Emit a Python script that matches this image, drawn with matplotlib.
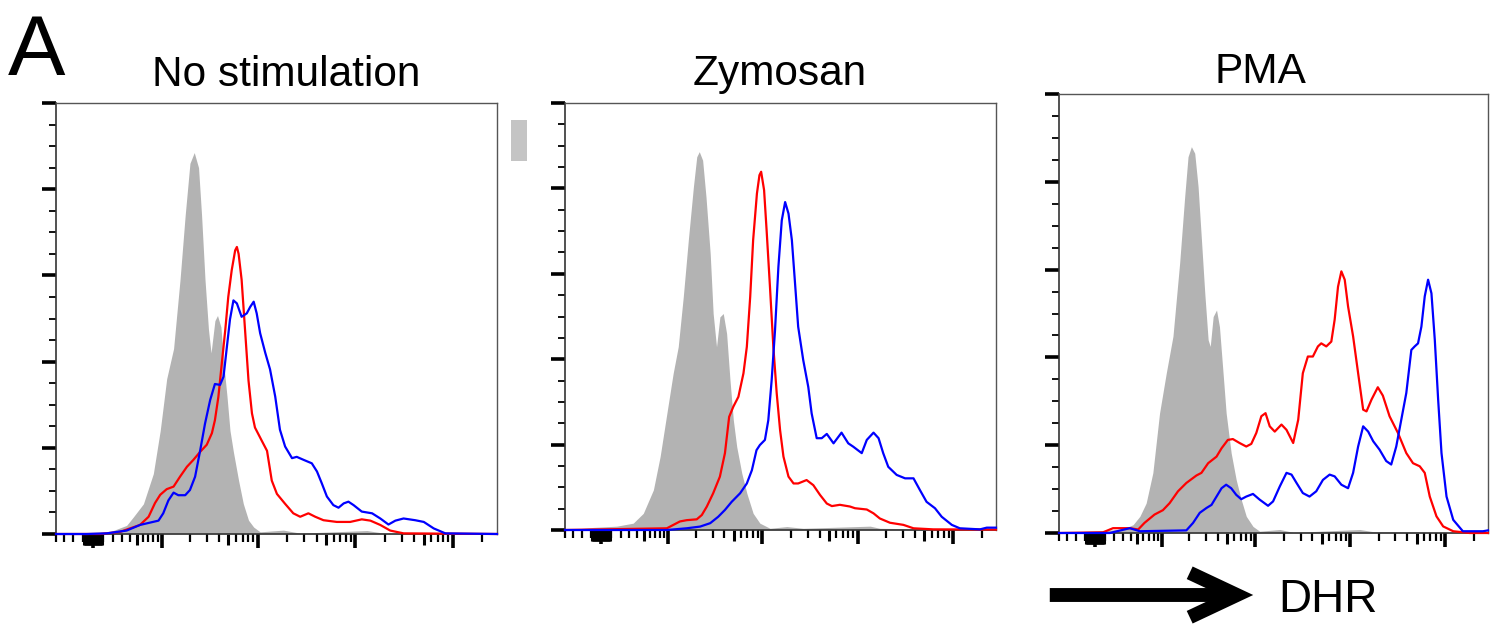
"""
Histogramas de DHR (citometría de flujo) para tres condiciones de estimulación.
"""

import numpy as np
import matplotlib.pyplot as plt
from matplotlib.patches import FancyArrowPatch, Rectangle

plt.rcParams['font.family'] = ['Liberation Sans', 'DejaVu Sans']

W_PX, H_PX = 1502, 627

# Canal (0-1024) y % del máximo
TITLES = ['No stimulation', 'Zymosan', 'PMA']

nostim_gray_x = [0, 63, 125, 164, 180, 203, 226, 242, 257, 273, 288, 300, 311, 321, 331, 338,
                 346, 354, 360, 369, 375, 383, 389, 397, 404, 412, 424, 435, 447, 459, 474,
                 528, 567, 722, 761, 1024]
nostim_gray_y = [0, 0.3, 0.5, 2, 4, 7, 14, 24, 36, 43, 59, 74, 86, 88.5, 85, 74,
                 59, 47.5, 42, 49.5, 50.7, 48, 40, 32, 24, 19, 12.4, 7, 3.2, 1.6, 0.5,
                 0.9, 0.2, 0.8, 0.2, 0]
nostim_red_x = [0, 102, 149, 195, 215, 230, 242, 257, 273, 288, 304, 319, 335, 350, 362, 369,
                377, 385, 393, 400, 408, 416, 420, 424, 431, 439, 447, 455, 462, 478, 490,
                501, 513, 532, 551, 567, 586, 602, 621, 652, 683, 710, 730, 753, 776, 807, 1024]
nostim_red_y = [0, 0, 0.5, 2.1, 4.0, 7.2, 9.1, 10.4, 11.0, 13.3, 15.6, 17.2, 19.1, 20.7, 23.4, 26.4,
                31.8, 39.6, 47.3, 55, 61.2, 65.8, 66.6, 65, 59, 47.3, 35.6, 28, 24.7, 21.6, 19.3,
                12.4, 9.3, 7.0, 4.8, 4.0, 4.8, 4.0, 3.2, 2.8, 2.8, 3.4, 3.1, 2.1, 0.8, 0.15, 0]
nostim_blue_x = [0, 71, 118, 164, 195, 238, 249, 261, 273, 284, 300, 311, 323, 335, 346, 358,
                 369, 381, 389, 397, 404, 412, 420, 431, 443, 451, 459, 466, 474, 486, 497,
                 509, 520, 532, 548, 559, 575, 594, 606, 617, 629, 644, 656, 668, 679, 691,
                 710, 734, 753, 772, 788, 807, 834, 854, 877, 904, 1024]
nostim_blue_y = [0, 0, 0.15, 0.8, 2.1, 3.1, 4.8, 7.8, 9.6, 9.0, 9.0, 10.2, 13.3, 19.5, 25.6, 31.1,
                 34.8, 34.6, 36.5, 43.6, 49.8, 54.2, 53.5, 50.4, 51.2, 52.7, 53.9, 51.2, 46.6, 42, 38.2,
                 31.9, 24.2, 20.3, 17.6, 17.9, 17.2, 16.4, 14.5, 11.8, 8.7, 6.7, 6.1, 7.1, 7.5, 6.7,
                 5.2, 4.8, 3.6, 2.2, 3.1, 3.6, 3.2, 2.8, 1.3, 0.15, 0]

zym_gray_x = [0, 67, 123, 162, 186, 210, 226, 242, 257, 269, 281, 293, 305, 313, 319, 327,
              335, 345, 352, 360, 368, 376, 384, 392, 400, 408, 420, 432, 447, 463, 487,
              527, 566, 725, 748, 1024]
zym_gray_y = [0, 0.6, 0.9, 1.6, 3.9, 9.4, 17.2, 27.3, 36.7, 42.9, 54.6, 67.9, 80.3, 87.4, 88.6, 86.6,
              78, 64.7, 50.7, 42.9, 49.9, 50.7, 46, 35.1, 25.7, 19.5, 13.3, 8.6, 3.9, 1.6, 0.4,
              0.8, 0.4, 0.9, 0.4, 0]
zym_red_x = [0, 242, 273, 289, 313, 325, 337, 352, 368, 380, 390, 400, 412, 424, 432, 440,
             447, 456, 462, 466, 473, 479, 487, 495, 503, 511, 519, 531, 543, 554, 574,
             590, 606, 622, 634, 653, 677, 689, 717, 733, 748, 772, 804, 828, 875, 1024]
zym_red_y = [0, 0.4, 2.0, 2.3, 2.5, 3.5, 5.5, 8.6, 12.5, 18, 26.5, 28.9, 31.2, 36.7, 42.9, 54.6,
             67.9, 78.8, 83.1, 83.9, 79.6, 70.2, 56.9, 42.9, 32, 23.4, 17.2, 12.5, 10.9, 10.9, 11.7,
             10.5, 8.2, 6.2, 5.6, 5.9, 5.5, 5.1, 4.8, 3.9, 2.7, 1.7, 1.2, 0.4, 0.15, 0.1]
zym_blue_x = [0, 242, 289, 321, 345, 364, 380, 396, 416, 432, 444, 455, 463, 475, 483, 491,
              499, 507, 515, 523, 531, 539, 546, 554, 566, 578, 586, 598, 610, 622, 638,
              657, 673, 685, 705, 717, 733, 745, 756, 768, 788, 808, 828, 843, 859, 879,
              895, 919, 938, 986, 1002, 1024]
zym_blue_y = [0, 0, 0.4, 0.8, 1.6, 3.1, 4.7, 6.6, 8.6, 10.9, 14, 18.7, 19.9, 21.1, 25.7, 35.1,
              46.8, 61.6, 72.5, 76.8, 74.1, 67.9, 58.5, 47.6, 39.8, 33.5, 27.3, 21.5, 21.5, 22.5, 20.3,
              22.8, 20.3, 19.5, 18, 21.1, 22.8, 21.5, 18, 14.8, 12.9, 12.1, 12.1, 9.4, 6.6, 5.1,
              3.1, 1.2, 0.4, 0.15, 0.55, 0.55]

pma_gray_x = [0, 65, 113, 153, 177, 193, 208, 224, 240, 256, 272, 288, 300, 308, 316, 324,
              332, 340, 348, 356, 361, 368, 376, 383, 391, 399, 411, 423, 435, 447, 463,
              479, 527, 559, 622, 718, 750, 1024]
pma_gray_y = [0, 0.4, 0.6, 0.9, 1.9, 3.8, 6.8, 13.7, 27.3, 36.4, 44.8, 61.5, 76.6, 85.7, 88, 86.5,
              78.9, 66.8, 54.6, 44, 42.5, 49.3, 50.8, 47, 37.2, 27.3, 18.2, 12.1, 7.6, 3.8, 1.5,
              0.4, 0.8, 0.15, 0.4, 0.8, 0.3, 0]
pma_red_x = [0, 105, 129, 169, 189, 204, 228, 248, 264, 284, 304, 328, 340, 356, 376, 388,
             403, 415, 431, 447, 459, 471, 483, 493, 503, 515, 531, 543, 559, 571, 582,
             594, 606, 618, 626, 638, 650, 658, 666, 674, 682, 690, 702, 714, 726, 734,
             746, 761, 773, 789, 809, 829, 845, 861, 873, 885, 901, 917, 941, 980, 1024]
pma_red_y = [0, 0.15, 1.1, 1.1, 0.8, 2.3, 4.2, 5.2, 6.8, 9.5, 11.4, 13.1, 13.7, 15.9, 17.4, 19.3,
             21.2, 21.4, 20.5, 19.7, 20.3, 22.8, 26.6, 27.3, 24.3, 23.1, 24.7, 23.5, 20.5, 25.8, 36.4,
             40.2, 40.2, 42.5, 43.2, 42.5, 43.6, 48.6, 56.1, 59.6, 57.7, 51.6, 44.8, 36.4, 28.1, 27.7,
             30.4, 33.2, 31.3, 26.6, 22.8, 18.2, 15.9, 15.2, 13.7, 8.3, 3.8, 1.5, 0.4, 0, 0]
pma_blue_x = [0, 121, 169, 193, 304, 320, 336, 352, 364, 376, 388, 399, 411, 423, 435, 447,
              463, 479, 499, 511, 527, 543, 555, 567, 582, 598, 614, 630, 646, 658, 674,
              690, 702, 714, 726, 738, 750, 765, 781, 793, 805, 817, 829, 841, 849, 857,
              865, 873, 881, 889, 897, 905, 913, 925, 941, 964, 1012, 1024]
pma_blue_y = [0, 0, 1.1, 0.4, 0.6, 2.3, 4.6, 5.7, 6.4, 8.3, 10.2, 11.0, 10.2, 8.7, 7.7, 8.3,
              8.9, 7.6, 6.2, 7.2, 10.6, 13.7, 13.3, 11.4, 9.1, 8.3, 9.5, 12.1, 13.3, 12.9, 11.0,
              10.2, 13.7, 19.7, 24.3, 23.1, 20.9, 19.0, 16.4, 15.6, 19.7, 25.8, 31.9, 41.7, 42.5, 43.2,
              47.0, 53.9, 57.7, 54.6, 44, 30.4, 18.2, 8.3, 3.0, 0.4, 0.4, 0.6]

PANELS = [
    (nostim_gray_x, nostim_gray_y, nostim_red_x, nostim_red_y, nostim_blue_x, nostim_blue_y),
    (zym_gray_x, zym_gray_y, zym_red_x, zym_red_y, zym_blue_x, zym_blue_y),
    (pma_gray_x, pma_gray_y, pma_red_x, pma_red_y, pma_blue_x, pma_blue_y),
]

# posiciones en píxeles (izq, arriba, der, abajo) de cada panel
AX_BOXES = [(56, 103, 497, 534), (565, 103, 996, 530), (1059, 94, 1488, 533)]
TITLE_POS = [(286, 86), (780, 85), (1260, 83)]

# escala biexponencial del eje de fluorescencia
CH0, CH_SCALE, LIN_W = 86, 98.4, 41


def to_channel(v):
    """Convierte intensidad de fluorescencia a canal de la escala biexponencial."""
    return CH0 + CH_SCALE * np.arcsinh(np.asarray(v, dtype=float) / LIN_W)


def fig_xy(px, py):
    return px / W_PX, 1 - py / H_PX


major_vals = [0, 1e2, 1e3, 1e4, 1e5]
medium_vals = ([-50, 50, 500, 5e3, 5e4]
               + [s * k for s in (-1, 1) for k in range(1, 10)])
minor_vals = ([s * k for s in (-1, 1) for k in (10, 20, 30, 40, 60, 70, 80, 90)]
              + [m * 10 ** e for e in (2, 3, 4) for m in (2, 3, 4, 6, 7, 8, 9)]
              + [2e5])


def in_range(vals):
    ch = to_channel(vals)
    return ch[(ch >= 0) & (ch <= 1024)]


fig = plt.figure(figsize=(W_PX / 100, H_PX / 100), dpi=100)

for (gx, gy, rx, ry, bx, by), box, title, tpos in zip(PANELS, AX_BOXES, TITLES, TITLE_POS):
    l, t, r, b = box
    ax = fig.add_axes([l / W_PX, 1 - b / H_PX, (r - l) / W_PX, (b - t) / H_PX])
    ax.fill_between(gx, gy, 0, color='#b3b3b3', lw=0, zorder=1)
    ax.plot(rx, ry, color='#ff0000', lw=1.6, zorder=3, clip_on=False,
            solid_joinstyle='round')
    ax.plot(bx, by, color='#0000ff', lw=1.6, zorder=4, clip_on=False,
            solid_joinstyle='round')
    ax.set_xlim(0, 1024)
    ax.set_ylim(0, 100)

    ax.set_yticks(np.arange(0, 101, 20))
    ax.set_yticks(np.arange(0, 101, 5), minor=True)
    ax.set_xticks(in_range(major_vals))
    ax.set_xticks(in_range(minor_vals), minor=True)
    ax.tick_params(which='major', direction='out', length=10, width=2.6,
                   labelbottom=False, labelleft=False, color='black')
    ax.tick_params(which='minor', direction='out', length=5, width=1.3, color='black')
    ax.tick_params(axis='x', which='minor', length=5.5, width=1.6)

    sec = ax.secondary_xaxis('bottom')
    sec.set_xticks(in_range(medium_vals))
    sec.set_xticklabels([])
    sec.tick_params(direction='out', length=8, width=2.2, color='black')
    sec.spines['bottom'].set_visible(False)

    for side, sp in ax.spines.items():
        sp.set_color('#333333' if side in ('left', 'bottom') else '#555555')
        sp.set_linewidth(1.2 if side in ('left', 'bottom') else 1.0)

    fig.text(*fig_xy(*tpos), title, fontsize=30.5, ha='center', va='baseline')

fig.text(*fig_xy(8, 75), 'A', fontsize=62, ha='left', va='baseline')
fig.text(*fig_xy(14, 686), 'B', fontsize=62, ha='left', va='baseline')

# marca gris junto al primer panel
x0, y0 = fig_xy(511, 161)
fig.add_artist(Rectangle((x0, y0), 16 / W_PX, 41 / H_PX, transform=fig.transFigure,
                         color='#c4c4c4', lw=0))

# flecha DHR
fig.add_artist(FancyArrowPatch(fig_xy(1047, 595), fig_xy(1256, 595), transform=fig.transFigure,
                               arrowstyle='->,head_length=1.7,head_width=0.8',
                               mutation_scale=20, lw=10, color='black',
                               capstyle='butt', joinstyle='miter'))
fig.text(*fig_xy(1278, 612), 'DHR', fontsize=33, ha='left', va='baseline')

plt.savefig('out.png', dpi=100)
